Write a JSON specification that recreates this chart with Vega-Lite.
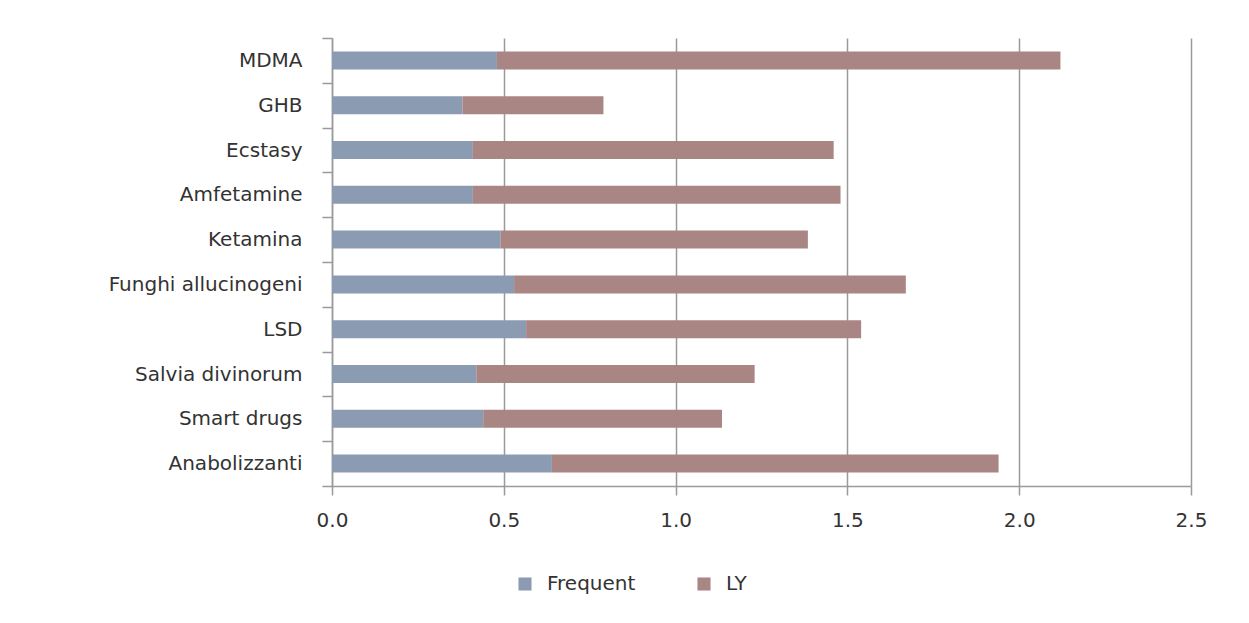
{
  "$schema": "https://vega.github.io/schema/vega-lite/v6.json",
  "autosize": {"type": "none"},
  "padding": {"left": 332, "top": 38, "right": 58, "bottom": 137},
  "width": 859,
  "height": 448,
  "background": "white",
  "data": {
    "values": [
      {"drug": "MDMA", "series": "Frequent", "value": 0.48, "ord": 1},
      {"drug": "MDMA", "series": "LY", "value": 1.64, "ord": 2},
      {"drug": "GHB", "series": "Frequent", "value": 0.38, "ord": 1},
      {"drug": "GHB", "series": "LY", "value": 0.41, "ord": 2},
      {"drug": "Ecstasy", "series": "Frequent", "value": 0.41, "ord": 1},
      {"drug": "Ecstasy", "series": "LY", "value": 1.05, "ord": 2},
      {"drug": "Amfetamine", "series": "Frequent", "value": 0.41, "ord": 1},
      {"drug": "Amfetamine", "series": "LY", "value": 1.07, "ord": 2},
      {"drug": "Ketamina", "series": "Frequent", "value": 0.49, "ord": 1},
      {"drug": "Ketamina", "series": "LY", "value": 0.895, "ord": 2},
      {"drug": "Funghi allucinogeni", "series": "Frequent", "value": 0.53, "ord": 1},
      {"drug": "Funghi allucinogeni", "series": "LY", "value": 1.14, "ord": 2},
      {"drug": "LSD", "series": "Frequent", "value": 0.565, "ord": 1},
      {"drug": "LSD", "series": "LY", "value": 0.975, "ord": 2},
      {"drug": "Salvia divinorum", "series": "Frequent", "value": 0.42, "ord": 1},
      {"drug": "Salvia divinorum", "series": "LY", "value": 0.81, "ord": 2},
      {"drug": "Smart drugs", "series": "Frequent", "value": 0.44, "ord": 1},
      {"drug": "Smart drugs", "series": "LY", "value": 0.695, "ord": 2},
      {"drug": "Anabolizzanti", "series": "Frequent", "value": 0.64, "ord": 1},
      {"drug": "Anabolizzanti", "series": "LY", "value": 1.3, "ord": 2}
    ]
  },
  "mark": {"type": "bar", "size": 18},
  "encoding": {
    "y": {
      "field": "drug",
      "type": "nominal",
      "sort": ["MDMA", "GHB", "Ecstasy", "Amfetamine", "Ketamina", "Funghi allucinogeni", "LSD", "Salvia divinorum", "Smart drugs", "Anabolizzanti"],
      "scale": {"paddingInner": 0, "paddingOuter": 0},
      "axis": {
        "title": null,
        "grid": false,
        "domainColor": "#9a9a9a",
        "domainWidth": 1.5,
        "tickColor": "#9a9a9a",
        "tickWidth": 1.5,
        "tickSize": 10,
        "tickBand": "extent",
        "labelFont": "DejaVu Sans",
        "labelFontSize": 20,
        "labelColor": "#333333",
        "labelPadding": 20,
        "labelLimit": 400
      }
    },
    "x": {
      "field": "value",
      "type": "quantitative",
      "stack": "zero",
      "scale": {"domain": [0, 2.5], "nice": false},
      "axis": {
        "title": null,
        "values": [0, 0.5, 1, 1.5, 2, 2.5],
        "format": ".1f",
        "grid": true,
        "gridColor": "#9a9a9a",
        "gridWidth": 1.5,
        "domainColor": "#9a9a9a",
        "domainWidth": 1.5,
        "tickColor": "#9a9a9a",
        "tickWidth": 1.5,
        "tickSize": 9,
        "labelFont": "DejaVu Sans",
        "labelFontSize": 20,
        "labelColor": "#333333",
        "labelPadding": 15,
        "labelFlush": false
      }
    },
    "color": {
      "field": "series",
      "type": "nominal",
      "scale": {"domain": ["Frequent", "LY"], "range": ["#8b9bb1", "#a98683"]},
      "legend": {
        "title": null,
        "orient": "none",
        "direction": "horizontal",
        "legendX": 183,
        "legendY": 536,
        "symbolType": "square",
        "symbolSize": 170,
        "symbolStrokeWidth": 0,
        "labelFont": "DejaVu Sans",
        "labelFontSize": 20,
        "labelColor": "#333333",
        "columnPadding": 58,
        "labelOffset": 12
      }
    },
    "order": {"field": "ord", "type": "quantitative"}
  },
  "config": {"view": {"stroke": null}}
}
